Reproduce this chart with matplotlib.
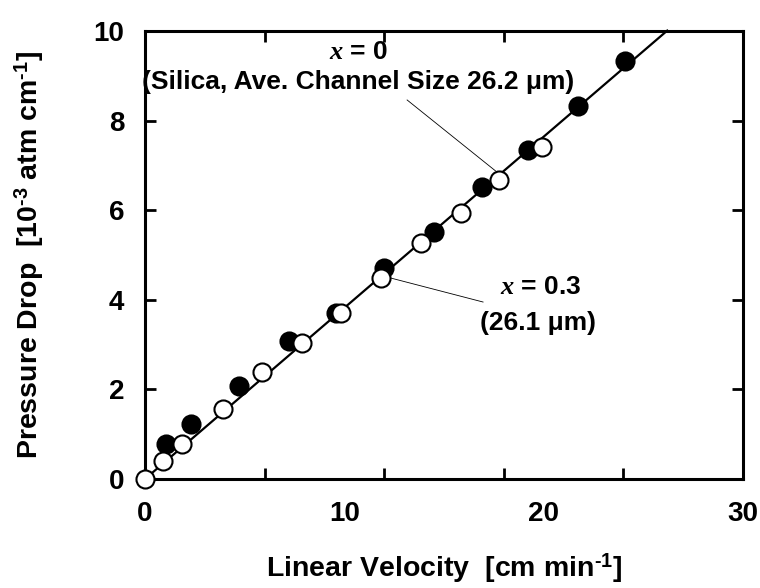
import matplotlib
matplotlib.use('Agg')
import matplotlib.pyplot as plt
import numpy as np
from matplotlib import font_manager

# silica x = 0 (filled) and x = 0.3 (open)
vel_x0 = np.array([1.05, 2.3, 4.7, 7.2, 9.6, 12.0, 14.5, 16.9, 19.2, 21.7, 24.1])
dp_x0 = np.array([0.78, 1.23, 2.08, 3.08, 3.70, 4.71, 5.51, 6.52, 7.34, 8.33, 9.33])
vel_x03 = np.array([0.0, 0.9, 1.86, 3.9, 5.87, 7.9, 9.83, 11.84, 13.85, 15.86, 17.76, 19.92])
dp_x03 = np.array([0.0, 0.40, 0.78, 1.56, 2.39, 3.04, 3.70, 4.49, 5.27, 5.94, 6.67, 7.41])
fit_slope = 0.382
fit_x = np.array([0.0, 26.2])

names = {f.name for f in font_manager.fontManager.ttflist}
fam = 'Liberation Sans Narrow' if 'Liberation Sans Narrow' in names else 'Liberation Sans'
plt.rcParams['font.family'] = [fam, 'DejaVu Sans']
plt.rcParams['font.weight'] = 'bold'
plt.rcParams['axes.labelweight'] = 'bold'
plt.rcParams['mathtext.fontset'] = 'custom'
plt.rcParams['mathtext.rm'] = fam + ':bold'
plt.rcParams['mathtext.bf'] = fam + ':bold'
plt.rcParams['mathtext.it'] = 'Liberation Serif:italic'

fig = plt.figure(figsize=(7.6, 5.88), dpi=100)
ax = fig.add_axes([0.1908, 0.1854, 0.7868, 0.7619])

ax.plot(fit_x, fit_slope * fit_x, color='black', lw=1.6, zorder=2, clip_on=False)
ax.plot(vel_x0, dp_x0, 'o', ms=13, mfc='black', mec='black', mew=1.5, zorder=3, clip_on=False)
ax.plot(vel_x03, dp_x03, 'o', ms=13, mfc='white', mec='black', mew=1.5, zorder=4, clip_on=False)

ax.set_xlim(0, 30)
ax.set_ylim(0, 10)
for s in ax.spines.values():
    s.set_linewidth(2.2)

# labels at 0,10,20,30 without marks; marks at every fifth of the axis
ax.set_xticks([0, 10, 20, 30])
ax.set_xticks([6, 12, 18, 24], minor=True)
ax.set_yticks([0, 2, 4, 6, 8, 10])
ax.tick_params(axis='x', which='major', length=0, pad=16, labelsize=20)
ax.tick_params(axis='x', which='minor', direction='in', length=8, width=2, top=True)
ax.tick_params(axis='y', which='major', direction='in', length=8, width=2, right=True,
               pad=15, labelsize=20)

ax.set_xlabel('Linear Velocity  [cm min$^{\\mathbf{\u20101}}$]', fontsize=20.5, labelpad=17)
ax.set_ylabel('Pressure Drop  [10$^{\\mathbf{\u20103}}$ atm cm$^{\\mathbf{\u20101}}$]',
              fontsize=20.5, labelpad=34)

ax.text(10.7, 9.53, r'$\mathit{x}$ = 0', ha='center', va='center', fontsize=19)
ax.text(10.7, 8.86, '(Silica, Ave. Channel Size 26.2 μm)', ha='center', va='center', fontsize=19)
ax.plot([13.15, 17.66], [8.46, 6.85], color='black', lw=0.6, zorder=1)

ax.text(19.87, 4.29, r'$\mathit{x}$ = 0.3', ha='center', va='center', fontsize=19)
ax.text(19.7, 3.48, '(26.1 μm)', ha='center', va='center', fontsize=19)
ax.plot([12.29, 16.96], [4.49, 3.95], color='black', lw=0.6, zorder=1)

fig.savefig('out.png', dpi=100)
